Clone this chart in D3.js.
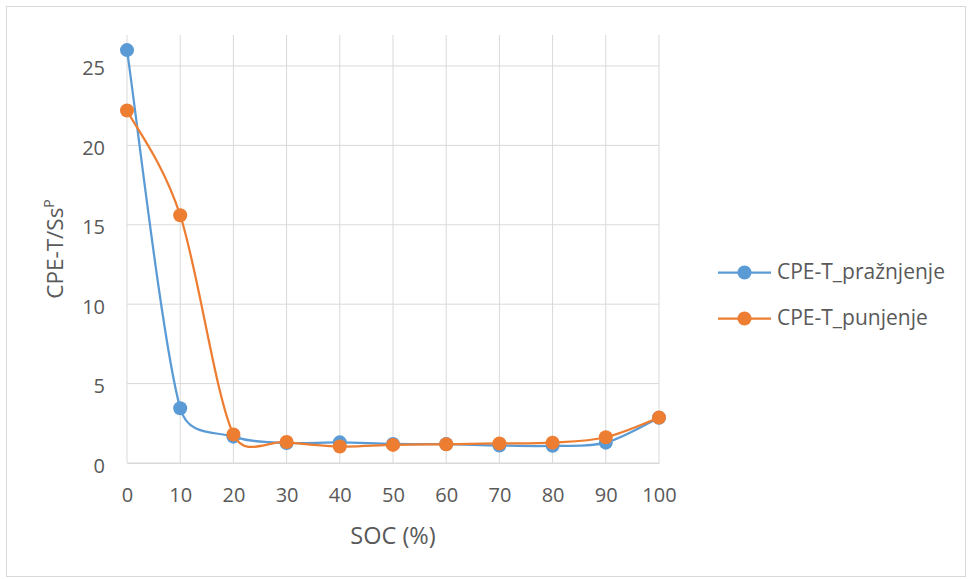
<!DOCTYPE html>
<html><head><meta charset="utf-8">
<script src="https://cdn.jsdelivr.net/npm/d3@7"></script>
<style>body{margin:0;background:#fff}svg{display:block}</style>
</head><body>
<svg id="c" width="968" height="579"></svg>
<script>
const soc = [0,10,20,30,40,50,60,70,80,90,100];
const praznjenje = [26.0,3.45,1.66,1.26,1.3,1.2,1.19,1.1,1.08,1.28,2.85];
const punjenje = [22.2,15.6,1.8,1.32,1.04,1.14,1.18,1.23,1.28,1.62,2.86];
const yTicks = [0,5,10,15,20,25];
const seriesNames = ["CPE-T_pražnjenje","CPE-T_punjenje"];
const colors = ["#5B9BD5","#ED7D31"];

const svg = d3.select("#c");
const font = "'Open Sans', sans-serif";
const txt = "#595959";
svg.append("rect").attr("x",6.5).attr("y",6.5).attr("width",959).attr("height",570)
  .attr("fill","#fff").attr("stroke","#d9d9d9");

const L=127,R=659,T=35,B=463;
const x = d3.scaleLinear().domain([0,100]).range([L,R]);
const y = d3.scaleLinear().domain([0,26.95]).range([B,T]);

svg.append("g").selectAll("line").data(soc).join("line")
  .attr("x1",d=>x(d)).attr("x2",d=>x(d)).attr("y1",T).attr("y2",B)
  .attr("stroke","#d9d9d9").attr("stroke-width",1);
svg.append("g").selectAll("line").data(yTicks).join("line")
  .attr("x1",L).attr("x2",R).attr("y1",d=>y(d)).attr("y2",d=>y(d))
  .attr("stroke","#d9d9d9").attr("stroke-width",1);

const xa = svg.append("g").attr("transform",`translate(0,${B})`)
  .call(d3.axisBottom(x).tickValues(soc).tickSize(0).tickPadding(0));
xa.select(".domain").attr("stroke","#d9d9d9");
xa.selectAll("text").attr("dy",null).attr("y",38.7).attr("font-family",font).attr("font-size",20).attr("fill",txt);

const ya = svg.append("g").attr("transform",`translate(${L},0)`)
  .call(d3.axisLeft(y).tickValues(yTicks).tickSize(0).tickPadding(22));
ya.select(".domain").remove();
ya.selectAll("text").attr("dy",null).attr("y",9).attr("font-family",font).attr("font-size",20).attr("fill",txt);

svg.append("text").attr("x",393).attr("y",544).attr("text-anchor","middle")
  .attr("font-family",font).attr("font-size",23.5).attr("fill",txt).text("SOC (%)");
const yt = svg.append("text").attr("transform",`translate(63,${(T+B)/2}) rotate(-90)`)
  .attr("text-anchor","middle").attr("font-family",font).attr("font-size",22.5).attr("fill",txt);
yt.append("tspan").text("CPE-T/Ss");
yt.append("tspan").attr("dy",-9).attr("font-size",14).text("P");

// Excel-like smoothed line: Bezier with 1/6 tension, control arm capped at half segment
function excelSmooth(vals){
  const p = vals.map((v,i)=>[x(soc[i]), y(v)]);
  const n = p.length, path = d3.path();
  const dist=(a,b)=>Math.hypot(a[0]-b[0],a[1]-b[1]);
  path.moveTo(p[0][0],p[0][1]);
  for(let i=0;i<n-1;i++){
    const p0=p[Math.max(i-1,0)], p1=p[i], p2=p[i+1], p3=p[Math.min(i+2,n-1)];
    const d02=dist(p0,p2), d13=dist(p1,p3), d12=dist(p1,p2);
    let f0=1/6, f3=1/6;
    if(d02/6 >= d12/2) f0 = d12/d02/2;
    if(d13/6 >= d12/2) f3 = d12/d13/2;
    const b1=[p1[0]+(p2[0]-p0[0])*f0, p1[1]+(p2[1]-p0[1])*f0];
    const b2=[p2[0]-(p3[0]-p1[0])*f3, p2[1]-(p3[1]-p1[1])*f3];
    path.bezierCurveTo(b1[0],b1[1],b2[0],b2[1],p2[0],p2[1]);
  }
  return path.toString();
}

[praznjenje,punjenje].forEach((s,k)=>{
  svg.append("path").attr("d",excelSmooth(s)).attr("fill","none").attr("stroke",colors[k]).attr("stroke-width",2.25);
  svg.append("g").selectAll("circle").data(s).join("circle")
    .attr("cx",(d,i)=>x(soc[i])).attr("cy",d=>y(d)).attr("r",7).attr("fill",colors[k]);
});

seriesNames.forEach((n,k)=>{
  const ly = 272.5 + k*46;
  svg.append("line").attr("x1",718).attr("x2",771).attr("y1",ly).attr("y2",ly)
    .attr("stroke",colors[k]).attr("stroke-width",2.25);
  svg.append("circle").attr("cx",744.5).attr("cy",ly).attr("r",7).attr("fill",colors[k]);
  svg.append("text").attr("x",777).attr("y",ly+6).attr("font-family",font).attr("font-size",21)
    .attr("fill",txt).text(n);
});
</script>
</body></html>
